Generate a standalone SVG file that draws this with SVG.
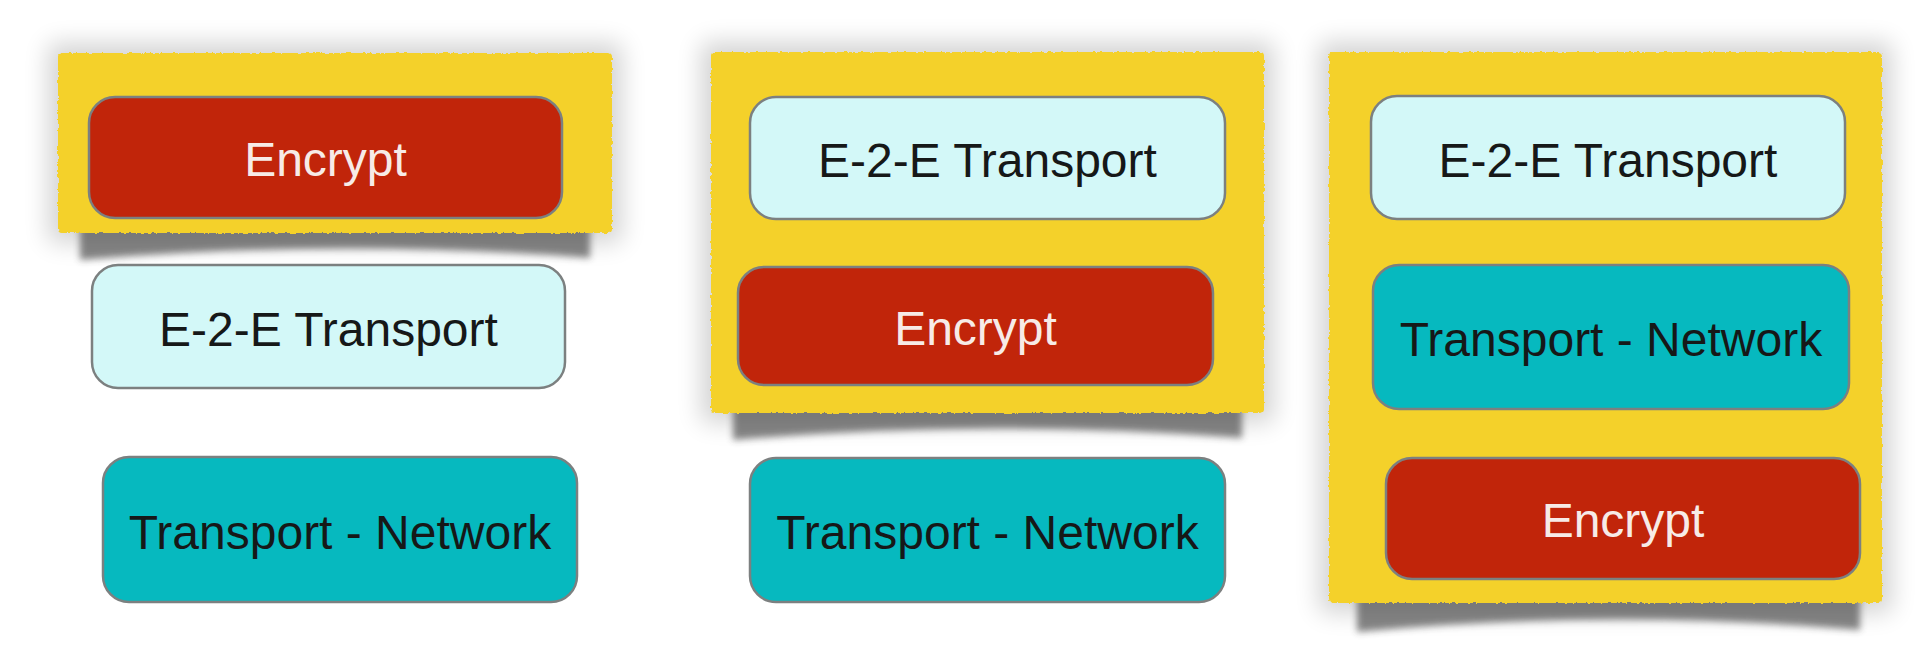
<svg xmlns="http://www.w3.org/2000/svg" width="1926" height="648" viewBox="0 0 1926 648">
  <defs>
    <filter id="torn" x="-3%" y="-3%" width="106%" height="106%">
      <feTurbulence type="fractalNoise" baseFrequency="0.25" numOctaves="2" seed="7" result="n"/>
      <feDisplacementMap in="SourceGraphic" in2="n" scale="3.5" xChannelSelector="R" yChannelSelector="G"/>
    </filter>
    <filter id="halo" x="-20%" y="-20%" width="140%" height="140%">
      <feGaussianBlur stdDeviation="12"/>
    </filter>
    <filter id="curl" x="-10%" y="-50%" width="120%" height="200%">
      <feGaussianBlur stdDeviation="3.5"/>
    </filter>
    <style>
      .paper { fill: #F4D12A; filter: url(#torn); }
      .halo { fill: #000; opacity: 0.17; filter: url(#halo); }
      .curl { fill: #3a3a3a; opacity: 0.62; filter: url(#curl); }
      .box { stroke: #7c8080; stroke-width: 2.5; }
      .enc { fill: #C1250A; }
      .e2e { fill: #D3F8F8; }
      .tn { fill: #06B9BF; }
      .lbl { font-family: "Liberation Sans", Arial, Helvetica, sans-serif; font-size: 48px; text-anchor: middle; }
      .dark { fill: #161818; }
      .light { fill: #f7ebe7; }
    </style>
  </defs>
  <rect width="1926" height="648" fill="#ffffff"/>

  <!-- Panel 1 -->
  <g id="panel1">
    <rect class="halo" x="48" y="43" width="574" height="200" rx="6"/>
    <path class="curl" d="M80 226 L590 226 L590 258 Q 335 238 80 260 Z"/>
    <rect class="paper" x="58" y="53" width="554" height="180" rx="4"/>
  </g>
  <g id="p1-encrypt">
    <rect class="box enc" x="89" y="97" width="473" height="121" rx="26"/>
    <text class="lbl light" x="325.5" y="176">Encrypt</text>
  </g>
  <g id="p1-e2e">
    <rect class="box e2e" x="92" y="265" width="473" height="123" rx="26"/>
    <text class="lbl dark" x="328.5" y="346">E-2-E Transport</text>
  </g>
  <g id="p1-tn">
    <rect class="box tn" x="103" y="457" width="474" height="145" rx="26"/>
    <text class="lbl dark" x="340" y="549">Transport - Network</text>
  </g>

  <!-- Panel 2 -->
  <g id="panel2">
    <rect class="halo" x="701" y="42" width="573" height="381" rx="6"/>
    <path class="curl" d="M733 406 L1242 406 L1242 438 Q 988 418 733 440 Z"/>
    <rect class="paper" x="711" y="52" width="553" height="361" rx="4"/>
  </g>
  <g id="p2-e2e">
    <rect class="box e2e" x="750" y="97" width="475" height="122" rx="26"/>
    <text class="lbl dark" x="987.5" y="177">E-2-E Transport</text>
  </g>
  <g id="p2-encrypt">
    <rect class="box enc" x="738" y="267" width="475" height="118" rx="26"/>
    <text class="lbl light" x="975.5" y="345">Encrypt</text>
  </g>
  <g id="p2-tn">
    <rect class="box tn" x="750" y="458" width="475" height="144" rx="26"/>
    <text class="lbl dark" x="987.5" y="549">Transport - Network</text>
  </g>

  <!-- Panel 3 -->
  <g id="panel3">
    <rect class="halo" x="1319" y="42" width="573" height="571" rx="6"/>
    <path class="curl" d="M1357 596 L1860 596 L1860 630 Q 1608 608 1357 632 Z"/>
    <rect class="paper" x="1329" y="52" width="553" height="551" rx="4"/>
  </g>
  <g id="p3-e2e">
    <rect class="box e2e" x="1371" y="96" width="474" height="123" rx="26"/>
    <text class="lbl dark" x="1608" y="176.5">E-2-E Transport</text>
  </g>
  <g id="p3-tn">
    <rect class="box tn" x="1373" y="265" width="476" height="144" rx="26"/>
    <text class="lbl dark" x="1611" y="356">Transport - Network</text>
  </g>
  <g id="p3-encrypt">
    <rect class="box enc" x="1386" y="458" width="474" height="121" rx="26"/>
    <text class="lbl light" x="1623" y="537">Encrypt</text>
  </g>

  <g id="connectors"/>
</svg>
